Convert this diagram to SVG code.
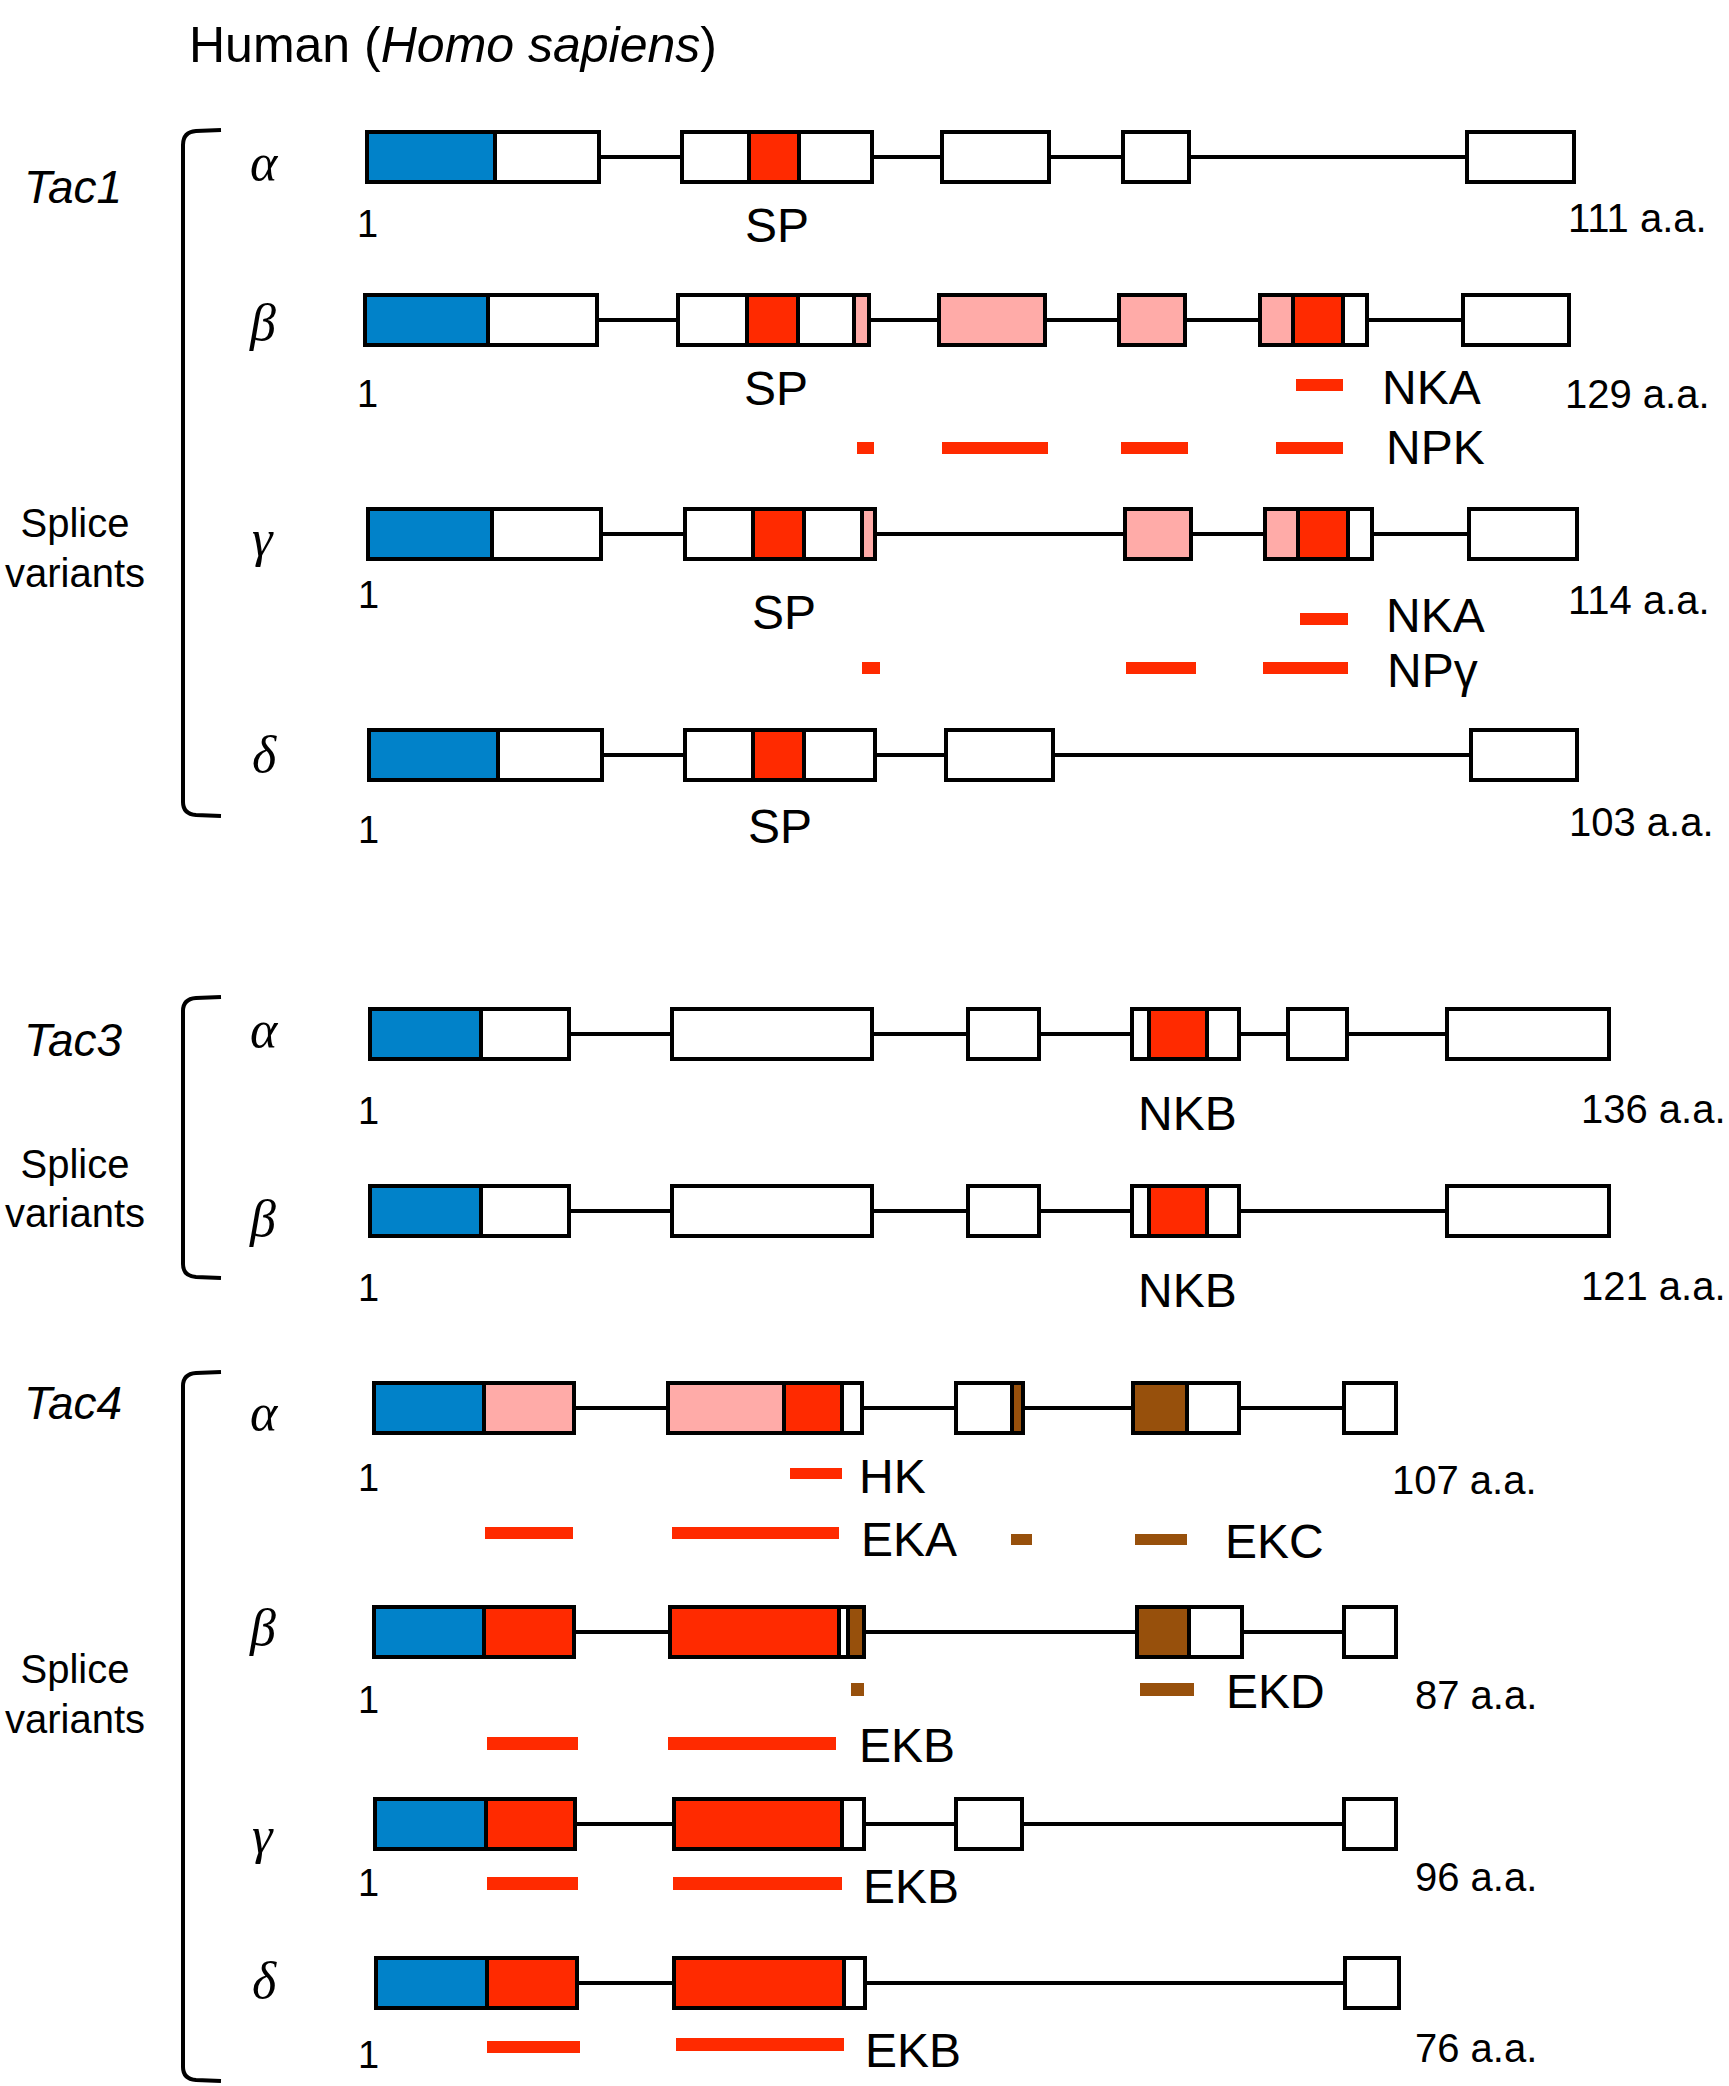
<svg xmlns="http://www.w3.org/2000/svg" width="1729" height="2086" viewBox="0 0 1729 2086">
<style>
.bg{fill:#fff}
.box{fill:#fff;stroke:#000;stroke-width:4}
.frame{fill:none;stroke:#000;stroke-width:4}
.blue{fill:#0182C9}
.red{fill:#FF2A00}
.pink{fill:#FFABA8}
.brown{fill:#97500C}
.dv{stroke:#000;stroke-width:4}
.intron{stroke:#000;stroke-width:4;fill:none}
.brk{stroke:#000;stroke-width:4;fill:none}
text{font-family:"Liberation Sans",Arial,sans-serif;fill:#000}
.title{font-size:50px}
.gene{font-size:46px;font-style:italic}
.sv{font-size:40px;text-anchor:middle}
.gr{font-family:"Liberation Serif","Times New Roman",serif;font-size:52px;font-style:italic}
.pep{font-size:48px}
.one{font-size:38px}
.aa{font-size:40px}
</style>
<rect class="bg" x="0" y="0" width="1729" height="2086"/>

<text class="title" x="189" y="62">Human (<tspan font-style="italic">Homo sapiens</tspan>)</text>

<!-- Connectors: introns and brackets -->
<g id="connectors">
<line class="intron" x1="599" y1="157" x2="1467" y2="157"/>
<line class="intron" x1="597" y1="320" x2="1463" y2="320"/>
<line class="intron" x1="601" y1="534" x2="1469" y2="534"/>
<line class="intron" x1="602" y1="755" x2="1471" y2="755"/>
<line class="intron" x1="569" y1="1034" x2="1447" y2="1034"/>
<line class="intron" x1="569" y1="1211" x2="1447" y2="1211"/>
<line class="intron" x1="574" y1="1408" x2="1344" y2="1408"/>
<line class="intron" x1="574" y1="1632" x2="1344" y2="1632"/>
<line class="intron" x1="575" y1="1824" x2="1344" y2="1824"/>
<line class="intron" x1="577" y1="1983" x2="1345" y2="1983"/>
<path class="brk" d="M221 130 L196 131 Q183 132 183 145 L183 802 Q183 814 196 815 L221 816"/>
<path class="brk" d="M221 997 L196 998 Q183 999 183 1011 L183 1264 Q183 1276 196 1277 L221 1278"/>
<path class="brk" d="M221 1372 L196 1373 Q183 1374 183 1386 L183 2067 Q183 2079 196 2080 L221 2081"/>
</g>

<!-- Tac1 -->
<g id="tac1-labels">
<text class="gene" x="24" y="203">Tac1</text>
<text class="sv" x="75" y="537">Splice</text>
<text class="sv" x="75" y="587">variants</text>
</g>

<g id="tac1-alpha">
<text class="gr" x="250" y="180">α</text>
<rect class="box" x="367" y="132" width="232" height="50"/>
<rect class="blue" x="367" y="132" width="128" height="50"/>
<line class="dv" x1="495" y1="132" x2="495" y2="182"/>
<rect class="frame" x="367" y="132" width="232" height="50"/>
<rect class="box" x="682" y="132" width="190" height="50"/>
<rect class="red" x="749" y="132" width="50" height="50"/>
<line class="dv" x1="749" y1="132" x2="749" y2="182"/>
<line class="dv" x1="799" y1="132" x2="799" y2="182"/>
<rect class="frame" x="682" y="132" width="190" height="50"/>
<rect class="box" x="942" y="132" width="107" height="50"/>
<rect class="box" x="1123" y="132" width="66" height="50"/>
<rect class="box" x="1467" y="132" width="107" height="50"/>
<text class="one" x="357" y="237">1</text>
<text class="pep" x="745" y="242">SP</text>
<text class="aa" x="1568" y="232">111 a.a.</text>
</g>

<g id="tac1-beta">
<text class="gr" x="250" y="340">β</text>
<rect class="box" x="365" y="295" width="232" height="50"/>
<rect class="blue" x="365" y="295" width="123" height="50"/>
<line class="dv" x1="488" y1="295" x2="488" y2="345"/>
<rect class="frame" x="365" y="295" width="232" height="50"/>
<rect class="box" x="678" y="295" width="191" height="50"/>
<rect class="red" x="747" y="295" width="51" height="50"/>
<rect class="pink" x="854" y="295" width="15" height="50"/>
<line class="dv" x1="747" y1="295" x2="747" y2="345"/>
<line class="dv" x1="798" y1="295" x2="798" y2="345"/>
<line class="dv" x1="854" y1="295" x2="854" y2="345"/>
<rect class="frame" x="678" y="295" width="191" height="50"/>
<rect class="box pink" x="939" y="295" width="106" height="50"/>
<rect class="box pink" x="1119" y="295" width="66" height="50"/>
<rect class="box" x="1260" y="295" width="107" height="50"/>
<rect class="pink" x="1260" y="295" width="33" height="50"/>
<rect class="red" x="1293" y="295" width="50" height="50"/>
<line class="dv" x1="1293" y1="295" x2="1293" y2="345"/>
<line class="dv" x1="1343" y1="295" x2="1343" y2="345"/>
<rect class="frame" x="1260" y="295" width="107" height="50"/>
<rect class="box" x="1463" y="295" width="106" height="50"/>
<text class="one" x="357" y="407">1</text>
<text class="pep" x="744" y="405">SP</text>
<rect class="red" x="1296" y="379" width="47" height="12"/>
<text class="pep" x="1382" y="404">NKA</text>
<text class="aa" x="1565" y="408">129 a.a.</text>
<rect class="red" x="857" y="442" width="17" height="12"/>
<rect class="red" x="942" y="442" width="106" height="12"/>
<rect class="red" x="1121" y="442" width="67" height="12"/>
<rect class="red" x="1276" y="442" width="67" height="12"/>
<text class="pep" x="1386" y="464">NPK</text>
</g>

<g id="tac1-gamma">
<text class="gr" x="252" y="556">γ</text>
<rect class="box" x="368" y="509" width="233" height="50"/>
<rect class="blue" x="368" y="509" width="124" height="50"/>
<line class="dv" x1="492" y1="509" x2="492" y2="559"/>
<rect class="frame" x="368" y="509" width="233" height="50"/>
<rect class="box" x="685" y="509" width="190" height="50"/>
<rect class="red" x="753" y="509" width="51" height="50"/>
<rect class="pink" x="862" y="509" width="13" height="50"/>
<line class="dv" x1="753" y1="509" x2="753" y2="559"/>
<line class="dv" x1="804" y1="509" x2="804" y2="559"/>
<line class="dv" x1="862" y1="509" x2="862" y2="559"/>
<rect class="frame" x="685" y="509" width="190" height="50"/>
<rect class="box pink" x="1125" y="509" width="66" height="50"/>
<rect class="box" x="1265" y="509" width="107" height="50"/>
<rect class="pink" x="1265" y="509" width="33" height="50"/>
<rect class="red" x="1298" y="509" width="50" height="50"/>
<line class="dv" x1="1298" y1="509" x2="1298" y2="559"/>
<line class="dv" x1="1348" y1="509" x2="1348" y2="559"/>
<rect class="frame" x="1265" y="509" width="107" height="50"/>
<rect class="box" x="1469" y="509" width="108" height="50"/>
<text class="one" x="358" y="608">1</text>
<text class="pep" x="752" y="629">SP</text>
<rect class="red" x="1300" y="613" width="48" height="12"/>
<text class="pep" x="1386" y="632">NKA</text>
<text class="aa" x="1568" y="614">114 a.a.</text>
<rect class="red" x="862" y="662" width="18" height="12"/>
<rect class="red" x="1126" y="662" width="70" height="12"/>
<rect class="red" x="1263" y="662" width="85" height="12"/>
<text class="pep" x="1387" y="687">NPγ</text>
</g>

<g id="tac1-delta">
<text class="gr" x="252" y="772">δ</text>
<rect class="box" x="369" y="730" width="233" height="50"/>
<rect class="blue" x="369" y="730" width="129" height="50"/>
<line class="dv" x1="498" y1="730" x2="498" y2="780"/>
<rect class="frame" x="369" y="730" width="233" height="50"/>
<rect class="box" x="685" y="730" width="190" height="50"/>
<rect class="red" x="753" y="730" width="51" height="50"/>
<line class="dv" x1="753" y1="730" x2="753" y2="780"/>
<line class="dv" x1="804" y1="730" x2="804" y2="780"/>
<rect class="frame" x="685" y="730" width="190" height="50"/>
<rect class="box" x="946" y="730" width="107" height="50"/>
<rect class="box" x="1471" y="730" width="106" height="50"/>
<text class="one" x="358" y="843">1</text>
<text class="pep" x="748" y="843">SP</text>
<text class="aa" x="1569" y="836">103 a.a.</text>
</g>

<!-- Tac3 -->
<g id="tac3-labels">
<text class="gene" x="24" y="1056">Tac3</text>
<text class="sv" x="75" y="1178">Splice</text>
<text class="sv" x="75" y="1227">variants</text>
</g>

<g id="tac3-alpha">
<text class="gr" x="250" y="1047">α</text>
<rect class="box" x="370" y="1009" width="199" height="50"/>
<rect class="blue" x="370" y="1009" width="111" height="50"/>
<line class="dv" x1="481" y1="1009" x2="481" y2="1059"/>
<rect class="frame" x="370" y="1009" width="199" height="50"/>
<rect class="box" x="672" y="1009" width="200" height="50"/>
<rect class="box" x="968" y="1009" width="71" height="50"/>
<rect class="box" x="1132" y="1009" width="107" height="50"/>
<rect class="red" x="1149" y="1009" width="58" height="50"/>
<line class="dv" x1="1149" y1="1009" x2="1149" y2="1059"/>
<line class="dv" x1="1207" y1="1009" x2="1207" y2="1059"/>
<rect class="frame" x="1132" y="1009" width="107" height="50"/>
<rect class="box" x="1288" y="1009" width="59" height="50"/>
<rect class="box" x="1447" y="1009" width="162" height="50"/>
<text class="one" x="358" y="1124">1</text>
<text class="pep" x="1138" y="1130">NKB</text>
<text class="aa" x="1581" y="1123">136 a.a.</text>
</g>

<g id="tac3-beta">
<text class="gr" x="250" y="1236">β</text>
<rect class="box" x="370" y="1186" width="199" height="50"/>
<rect class="blue" x="370" y="1186" width="111" height="50"/>
<line class="dv" x1="481" y1="1186" x2="481" y2="1236"/>
<rect class="frame" x="370" y="1186" width="199" height="50"/>
<rect class="box" x="672" y="1186" width="200" height="50"/>
<rect class="box" x="968" y="1186" width="71" height="50"/>
<rect class="box" x="1132" y="1186" width="107" height="50"/>
<rect class="red" x="1149" y="1186" width="58" height="50"/>
<line class="dv" x1="1149" y1="1186" x2="1149" y2="1236"/>
<line class="dv" x1="1207" y1="1186" x2="1207" y2="1236"/>
<rect class="frame" x="1132" y="1186" width="107" height="50"/>
<rect class="box" x="1447" y="1186" width="162" height="50"/>
<text class="one" x="358" y="1301">1</text>
<text class="pep" x="1138" y="1307">NKB</text>
<text class="aa" x="1581" y="1300">121 a.a.</text>
</g>

<!-- Tac4 -->
<g id="tac4-labels">
<text class="gene" x="24" y="1419">Tac4</text>
<text class="sv" x="75" y="1683">Splice</text>
<text class="sv" x="75" y="1733">variants</text>
</g>

<g id="tac4-alpha">
<text class="gr" x="250" y="1430">α</text>
<rect class="box" x="374" y="1383" width="200" height="50"/>
<rect class="blue" x="374" y="1383" width="110" height="50"/>
<rect class="pink" x="484" y="1383" width="90" height="50"/>
<line class="dv" x1="484" y1="1383" x2="484" y2="1433"/>
<rect class="frame" x="374" y="1383" width="200" height="50"/>
<rect class="box" x="668" y="1383" width="194" height="50"/>
<rect class="pink" x="668" y="1383" width="116" height="50"/>
<rect class="red" x="784" y="1383" width="58" height="50"/>
<line class="dv" x1="784" y1="1383" x2="784" y2="1433"/>
<line class="dv" x1="842" y1="1383" x2="842" y2="1433"/>
<rect class="frame" x="668" y="1383" width="194" height="50"/>
<rect class="box" x="956" y="1383" width="67" height="50"/>
<rect class="brown" x="1012" y="1383" width="11" height="50"/>
<line class="dv" x1="1012" y1="1383" x2="1012" y2="1433"/>
<rect class="frame" x="956" y="1383" width="67" height="50"/>
<rect class="box" x="1133" y="1383" width="106" height="50"/>
<rect class="brown" x="1133" y="1383" width="54" height="50"/>
<line class="dv" x1="1187" y1="1383" x2="1187" y2="1433"/>
<rect class="frame" x="1133" y="1383" width="106" height="50"/>
<rect class="box" x="1344" y="1383" width="52" height="50"/>
<text class="one" x="358" y="1491">1</text>
<rect class="red" x="790" y="1468" width="52" height="11"/>
<text class="pep" x="859" y="1493">HK</text>
<text class="aa" x="1392" y="1494">107 a.a.</text>
<rect class="red" x="485" y="1527" width="88" height="12"/>
<rect class="red" x="672" y="1527" width="167" height="12"/>
<text class="pep" x="861" y="1556">EKA</text>
<rect class="brown" x="1011" y="1534" width="21" height="11"/>
<rect class="brown" x="1135" y="1534" width="52" height="11"/>
<text class="pep" x="1225" y="1558">EKC</text>
</g>

<g id="tac4-beta">
<text class="gr" x="250" y="1645">β</text>
<rect class="box" x="374" y="1607" width="200" height="50"/>
<rect class="blue" x="374" y="1607" width="110" height="50"/>
<rect class="red" x="484" y="1607" width="90" height="50"/>
<line class="dv" x1="484" y1="1607" x2="484" y2="1657"/>
<rect class="frame" x="374" y="1607" width="200" height="50"/>
<rect class="box" x="670" y="1607" width="194" height="50"/>
<rect class="red" x="670" y="1607" width="169" height="50"/>
<rect class="brown" x="848" y="1607" width="16" height="50"/>
<line class="dv" x1="839" y1="1607" x2="839" y2="1657"/>
<line class="dv" x1="848" y1="1607" x2="848" y2="1657"/>
<rect class="frame" x="670" y="1607" width="194" height="50"/>
<rect class="box" x="1137" y="1607" width="105" height="50"/>
<rect class="brown" x="1137" y="1607" width="52" height="50"/>
<line class="dv" x1="1189" y1="1607" x2="1189" y2="1657"/>
<rect class="frame" x="1137" y="1607" width="105" height="50"/>
<rect class="box" x="1344" y="1607" width="52" height="50"/>
<text class="one" x="358" y="1713">1</text>
<rect class="brown" x="851" y="1683" width="13" height="13"/>
<rect class="brown" x="1140" y="1683" width="54" height="13"/>
<text class="pep" x="1226" y="1708">EKD</text>
<text class="aa" x="1415" y="1709">87 a.a.</text>
<rect class="red" x="487" y="1737" width="91" height="13"/>
<rect class="red" x="668" y="1737" width="168" height="13"/>
<text class="pep" x="859" y="1762">EKB</text>
</g>

<g id="tac4-gamma">
<text class="gr" x="252" y="1853">γ</text>
<rect class="box" x="375" y="1799" width="200" height="50"/>
<rect class="blue" x="375" y="1799" width="111" height="50"/>
<rect class="red" x="486" y="1799" width="89" height="50"/>
<line class="dv" x1="486" y1="1799" x2="486" y2="1849"/>
<rect class="frame" x="375" y="1799" width="200" height="50"/>
<rect class="box" x="674" y="1799" width="190" height="50"/>
<rect class="red" x="674" y="1799" width="168" height="50"/>
<line class="dv" x1="842" y1="1799" x2="842" y2="1849"/>
<rect class="frame" x="674" y="1799" width="190" height="50"/>
<rect class="box" x="956" y="1799" width="66" height="50"/>
<rect class="box" x="1344" y="1799" width="52" height="50"/>
<text class="one" x="358" y="1896">1</text>
<rect class="red" x="487" y="1877" width="91" height="13"/>
<rect class="red" x="673" y="1877" width="169" height="13"/>
<text class="pep" x="863" y="1903">EKB</text>
<text class="aa" x="1415" y="1891">96 a.a.</text>
</g>

<g id="tac4-delta">
<text class="gr" x="252" y="1998">δ</text>
<rect class="box" x="376" y="1958" width="201" height="50"/>
<rect class="blue" x="376" y="1958" width="111" height="50"/>
<rect class="red" x="487" y="1958" width="90" height="50"/>
<line class="dv" x1="487" y1="1958" x2="487" y2="2008"/>
<rect class="frame" x="376" y="1958" width="201" height="50"/>
<rect class="box" x="674" y="1958" width="191" height="50"/>
<rect class="red" x="674" y="1958" width="170" height="50"/>
<line class="dv" x1="844" y1="1958" x2="844" y2="2008"/>
<rect class="frame" x="674" y="1958" width="191" height="50"/>
<rect class="box" x="1345" y="1958" width="54" height="50"/>
<text class="one" x="358" y="2068">1</text>
<rect class="red" x="487" y="2041" width="93" height="12"/>
<rect class="red" x="676" y="2038" width="168" height="13"/>
<text class="pep" x="865" y="2067">EKB</text>
<text class="aa" x="1415" y="2062">76 a.a.</text>
</g>
</svg>
